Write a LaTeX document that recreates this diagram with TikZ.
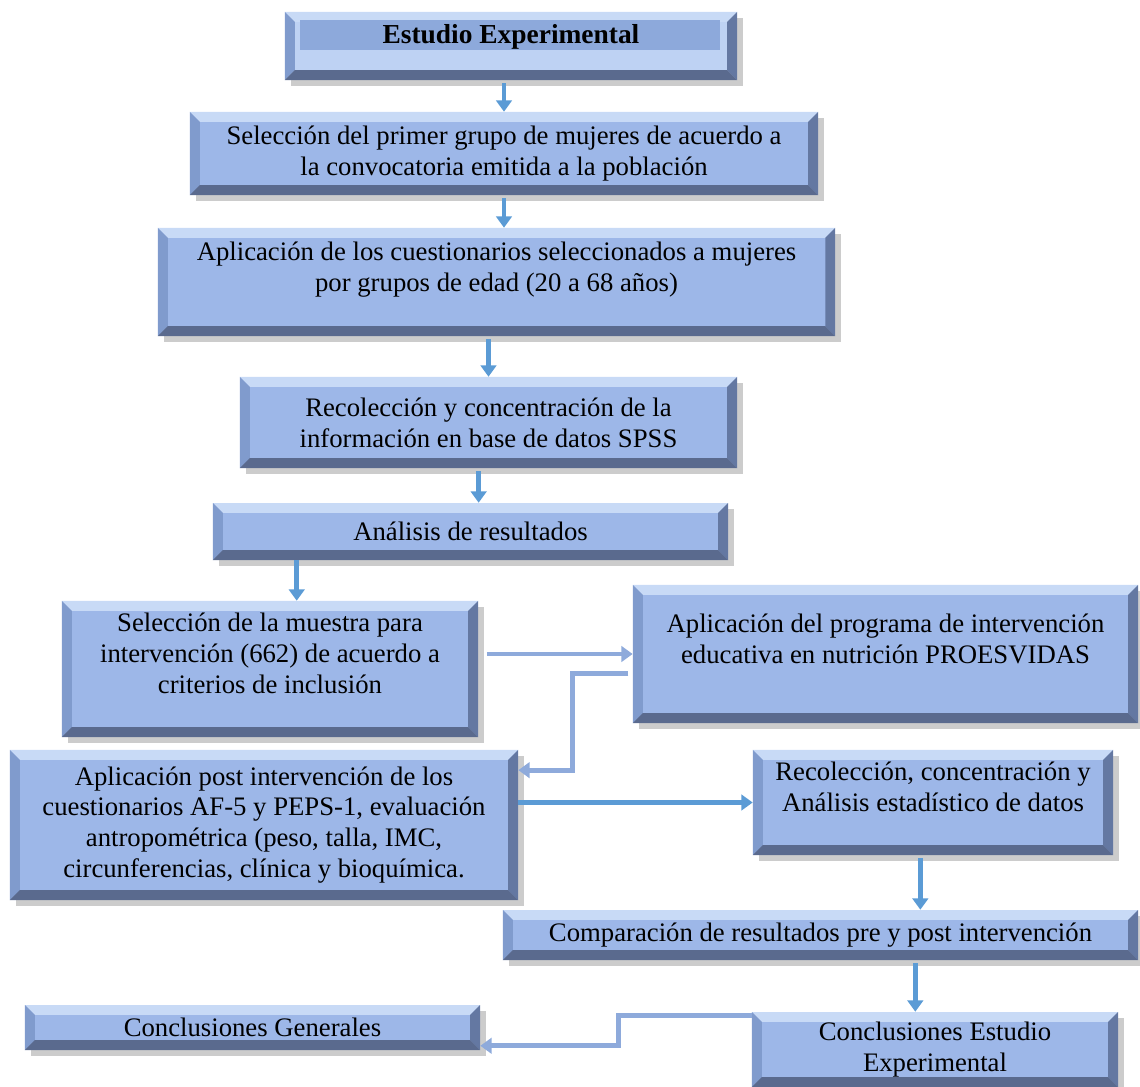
\documentclass[tikz,border=0pt]{standalone}
\usepackage{fontspec}
\setmainfont{Liberation Serif}
\usetikzlibrary{arrows.meta, positioning, shadows}
\definecolor{cajafondo}{RGB}{157,183,232}
\definecolor{bisup}{RGB}{200,218,246}
\definecolor{bisizq}{RGB}{128,155,205}
\definecolor{bisder}{RGB}{100,120,162}
\definecolor{bisinf}{RGB}{90,106,142}
\definecolor{titfondo}{RGB}{190,210,243}
\definecolor{titbanda}{RGB}{141,169,219}
\definecolor{flechaazul}{RGB}{91,155,213}
\definecolor{flechaclara}{RGB}{142,170,219}
\newcommand{\biselado}{%
  \coordinate (bnw) at (path picture bounding box.north west);
  \coordinate (bne) at (path picture bounding box.north east);
  \coordinate (bsw) at (path picture bounding box.south west);
  \coordinate (bse) at (path picture bounding box.south east);
  \fill[bisup] (bnw) -- (bne) -- ([shift={(-7pt,-7pt)}]bne) -- ([shift={(7pt,-7pt)}]bnw) -- cycle;
  \fill[bisizq] (bnw) -- (bsw) -- ([shift={(7pt,7pt)}]bsw) -- ([shift={(7pt,-7pt)}]bnw) -- cycle;
  \fill[bisder] (bne) -- (bse) -- ([shift={(-7pt,7pt)}]bse) -- ([shift={(-7pt,-7pt)}]bne) -- cycle;
  \fill[bisinf] (bsw) -- (bse) -- ([shift={(-7pt,7pt)}]bse) -- ([shift={(7pt,7pt)}]bsw) -- cycle;}

\begin{document}
\begin{tikzpicture}[
        x=0.025cm, y=-0.025cm,
        font=\fontsize{19}{22}\selectfont,
        caja/.style={rectangle, draw=none, fill=cajafondo, inner sep=0pt, align=center,
            drop shadow={opacity=0.4, shadow xshift=4pt, shadow yshift=-4pt},
            path picture={\biselado}},
        titulocaja/.style={caja, fill=titfondo, font=\fontsize{19.5}{22}\selectfont\bfseries,
            text height=12pt, text depth=16pt,
            path picture={\biselado
              \fill[titbanda] ([shift={(10.5pt,-5.7pt)}]path picture bounding box.north west)
                rectangle ([shift={(-12pt,-27pt)}]path picture bounding box.north east);}},
        flecha/.style={-{Triangle[width=11pt,length=8pt]}, line width=3.5pt, color=flechaazul},
        flechaluz/.style={-{Triangle[width=11pt,length=8pt]}, line width=3.5pt, color=flechaclara}
    ]
        \useasboundingbox (0,0) rectangle (1140,1087);
        \node[titulocaja, minimum width=11.3cm, minimum height=1.7cm] (titulo) at (511,46) {Estudio Experimental};
        \node[caja, minimum width=15.7cm, minimum height=2.075cm] (seleccion) at (504,153.5)
            {Selección del primer grupo de mujeres de acuerdo a\\la convocatoria emitida a la población};
        \node[caja, minimum width=16.925cm, minimum height=2.7cm] (cuestionarios) at (496.5,282)
            {Aplicación de los cuestionarios seleccionados a mujeres\\por grupos de edad (20 a 68 años)\\\mbox{}};
        \node[caja, minimum width=12.425cm, minimum height=2.275cm] (recoleccion) at (488.5,422.5)
            {Recolección y concentración de la\\información en base de datos SPSS};
        \node[caja, minimum width=12.875cm, minimum height=1.425cm] (analisis) at (470.5,531.5)
            {Análisis de resultados};
        \node[caja, minimum width=10.4cm, minimum height=3.4cm] (muestra) at (270,669)
            {Selección de la muestra para\\intervención (662) de acuerdo a\\criterios de inclusión\\\mbox{}};
        \node[caja, minimum width=12.625cm, minimum height=3.45cm] (programa) at (885.5,654)
            {Aplicación del programa de intervención\\educativa en nutrición PROESVIDAS\\\mbox{}};
        \node[caja, minimum width=12.7cm, minimum height=3.75cm] (postint) at (264,825)
            {Aplicación post intervención de los\\cuestionarios AF-5 y PEPS-1, evaluación\\antropométrica (peso, talla, IMC,\\circunferencias, clínica y bioquímica.};
        \node[caja, minimum width=9cm, minimum height=2.625cm] (estadistico) at (933,802.5)
            {Recolección, concentración y\\Análisis estadístico de datos\\\mbox{}};
        \node[caja, minimum width=15.875cm, minimum height=1.25cm] (comparacion) at (820.5,935)
            {Comparación de resultados pre y post intervención};
        \node[caja, minimum width=11.375cm, minimum height=1.125cm] (conclgen) at (252.5,1027.5)
            {Conclusiones Generales};
        \node[caja, minimum width=9.15cm, minimum height=1.875cm] (conclexp) at (935,1049.5)
            {Conclusiones Estudio\\Experimental};
        \draw[flecha] ([yshift=-2pt]titulo.south -| seleccion.north) -- (seleccion.north);
        \draw[flecha] ([yshift=-2pt]seleccion.south) -- (seleccion.south |- cuestionarios.north);
        \draw[flecha] ([yshift=-2pt]cuestionarios.south -| recoleccion.north) -- (recoleccion.north);
        \draw[flecha] ([shift={(-7pt,-2pt)}]recoleccion.south) -- ([xshift=-7pt]recoleccion.south |- analisis.north);
        \draw[flecha] ([xshift=19pt]muestra.north |- analisis.south) -- ([xshift=19pt]muestra.north);
        \draw[flechaluz] ([xshift=6pt]muestra.east |- programa.west) -- (programa.west);
        \draw[flechaluz] ([shift={(-3pt,-14pt)}]programa.west) -- ++(-40pt,0) |- ([yshift=39pt]postint.east);
        \draw[flecha] (postint.east |- estadistico.west) -- (estadistico.west);
        \draw[flecha] ([shift={(-9pt,-2pt)}]estadistico.south) -- ([xshift=-9pt]estadistico.south |- comparacion.north);
        \draw[flecha] ([shift={(-14pt,-2pt)}]conclexp.north |- comparacion.south) -- ([xshift=-14pt]conclexp.north);
        \draw[flechaluz] ([yshift=-3pt]conclexp.north west) -- ++(-95pt,0) |- ([yshift=-13pt]conclgen.east);
    \end{tikzpicture}
\end{document}
